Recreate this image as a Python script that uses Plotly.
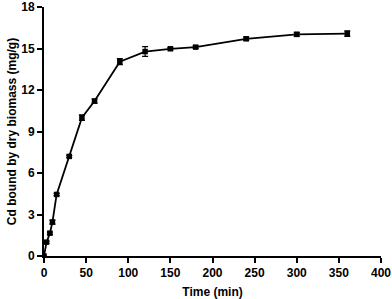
import plotly.graph_objects as go

time_min = [0, 3, 7, 10, 15, 30, 45, 60, 90, 120, 150, 180, 240, 300, 360]
cd_bound = [0, 1.0, 1.65, 2.45, 4.45, 7.2, 10.0, 11.2, 14.05, 14.78, 14.98, 15.1, 15.7, 16.02, 16.08]
cd_err = [0, 0.08, 0.08, 0.15, 0.08, 0.08, 0.2, 0.15, 0.22, 0.35, 0.08, 0.1, 0.12, 0.15, 0.2]

x_ticks = [0, 50, 100, 150, 200, 250, 300, 350, 400]
y_ticks = [0, 3, 6, 9, 12, 15, 18]

fig = go.Figure()
fig.add_trace(go.Scatter(
    x=time_min, y=cd_bound,
    mode="lines+markers",
    line=dict(color="black", width=1.8),
    marker=dict(symbol="square", size=5.5, color="black"),
    error_y=dict(type="data", array=cd_err, visible=True, color="black", thickness=1.2, width=3),
    showlegend=False,
))

font = dict(family="Liberation Sans, Arial, sans-serif", size=12, color="black")
fig.update_layout(
    width=392, height=299,
    margin=dict(l=44, r=11, t=7, b=43, autoexpand=False),
    paper_bgcolor="white", plot_bgcolor="white",
    font=font,
    xaxis=dict(
        range=[0, 400], tickvals=x_ticks, ticktext=[f"<b>{v}</b>" for v in x_ticks],
        showline=True, linecolor="black", linewidth=2, mirror=False,
        ticks="outside", ticklen=5, tickwidth=2, tickcolor="black",
        showgrid=False, zeroline=False, automargin=False,
        title=dict(text="<b>Time (min)</b>", standoff=9, font=font),
    ),
    yaxis=dict(
        range=[0, 18], tickvals=y_ticks, ticktext=[f"<b>{v}</b>" for v in y_ticks],
        showline=True, linecolor="black", linewidth=2, mirror=False,
        ticks="outside", ticklen=5, tickwidth=2, tickcolor="black",
        showgrid=False, zeroline=False, automargin=False,
        title=dict(text="<b>Cd bound by dry biomass (mg/g)</b>", standoff=2, font=font),
    ),
)

fig.write_html(
    "out.html",
    config={"displayModeBar": False},
    post_script="document.body.style.margin='0';document.body.style.overflow='hidden';",
)
